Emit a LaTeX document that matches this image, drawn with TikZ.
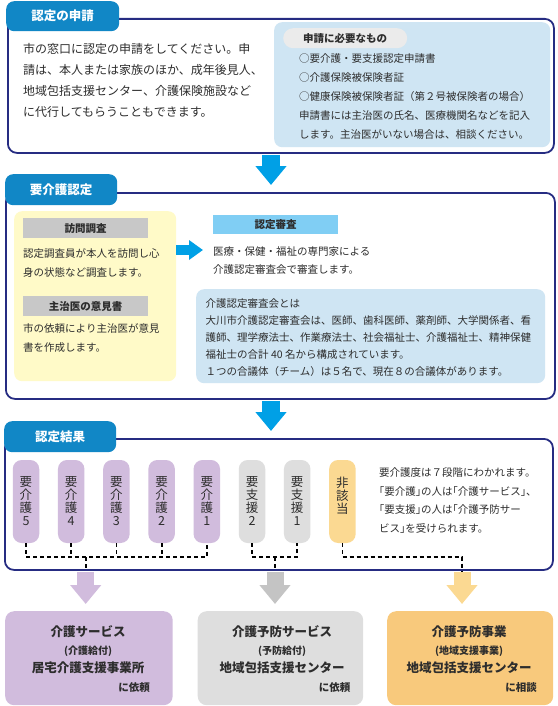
\documentclass[tikz,border=0pt]{standalone}
\usepackage{fontspec}
\setmainfont{Noto Sans CJK JP}
\newfontfamily\halffont{Noto Sans CJK JP}[RawFeature=+halt]
\usetikzlibrary{arrows.meta}

\definecolor{tabblue}{RGB}{17,135,198}
\definecolor{framenavy}{RGB}{38,44,130}
\definecolor{paleblue}{RGB}{207,229,243}
\definecolor{skyblue}{RGB}{128,206,244}
\definecolor{arrowblue}{RGB}{0,160,230}
\definecolor{paleyellow}{RGB}{255,250,200}
\definecolor{bargray}{RGB}{200,200,200}
\definecolor{pillgray}{RGB}{235,235,235}
\definecolor{carepurple}{RGB}{209,188,221}
\definecolor{supgray}{RGB}{222,222,222}
\definecolor{noneyellow}{RGB}{251,217,146}
\definecolor{prevorange}{RGB}{248,201,124}
\definecolor{arrowgray}{RGB}{196,196,196}
\definecolor{textgray}{RGB}{45,45,45}

\begin{document}
\begin{tikzpicture}[x=1pt,y=-1pt,
    every node/.style={text=textgray,inner sep=0pt},
    outerframe/.style={draw=framenavy,line width=1.8pt,fill=white,rounded corners=9pt,anchor=north west},
    boxtab/.style={fill=tabblue,rounded corners=8pt,anchor=north west,text=white,font=\bfseries\fontsize{12.5}{14}\selectfont},
    panel/.style={rounded corners=8pt,anchor=north west},
    bartitle/.style={anchor=north west,font=\bfseries\fontsize{10.5}{12}\selectfont},
    bodytext/.style={anchor=north west,align=left,font=\fontsize{10.5}{19}\selectfont},
    boxpill/.style={minimum width=26.5pt,minimum height=83pt,rounded corners=9pt,align=center,font=\fontsize{12.5}{13}\selectfont},
    dotline/.style={line width=1.8pt,dash pattern=on 4pt off 3pt},
    bigarrow/.style={line width=17pt,-{Triangle[width=30pt,length=19pt]},shorten >=7pt,shorten <=1pt},
    resultbox/.style={minimum width=167pt,minimum height=94pt,rounded corners=9pt,anchor=north west},
    resulttext/.style={align=center,font=\bfseries\fontsize{12.5}{18}\selectfont},
    noteref/.style={anchor=base east,font=\bfseries\fontsize{10.5}{12}\selectfont}]

  \useasboundingbox (0,0) rectangle (557,706);

  % 認定の申請
  \node[outerframe,minimum width=546pt,minimum height=134pt] (apply) at (7,18) {};
  \node[boxtab,minimum width=113pt,minimum height=30pt] (applyT) at (6,1) {認定の申請};
  \node[panel,fill=paleblue,minimum width=276pt,minimum height=125pt] (needs) at (274,22) {};
  \node[bartitle,fill=pillgray,rounded corners=10pt,minimum width=124pt,minimum height=20pt] (needsT) at (283,28) {申請に必要なもの};
  \node[bodytext,font=\fontsize{12}{21}\selectfont] (applyText) at (23,43.6)
    {市の窓口に認定の申請をしてください。申\\請は、本人または家族のほか、成年後見人、\\地域包括支援センター、介護保険施設など\\に代行してもらうこともできます。};
  \node[bodytext] (needsText) at (299,53.3)
    {○要介護・要支援認定申請書\\○介護保険被保険者証\\○健康保険被保険者証（第２号被保険者の場合）\\申請書には主治医の氏名、医療機関名などを記入\\します。主治医がいない場合は、相談ください。};

  % 要介護認定
  \node[outerframe,minimum width=549pt,minimum height=206pt] (cert) at (5,192) {};
  \node[boxtab,minimum width=112pt,minimum height=31pt] (certT) at (5,174) {要介護認定};
  \node[panel,fill=paleyellow,minimum width=162pt,minimum height=170pt] (survey) at (14,211) {};
  \node[bartitle,fill=bargray,minimum width=125pt,minimum height=20pt] (visitT) at (23,218) {訪問調査};
  \node[bodytext] (visitText) at (23,248.3) {認定調査員が本人を訪問し心\\身の状態など調査します。};
  \node[bartitle,fill=bargray,minimum width=125pt,minimum height=20pt] (opinionT) at (23,296) {主治医の意見書};
  \node[bodytext] (opinionText) at (23,323.3) {市の依頼により主治医が意見\\書を作成します。};
  \node[bartitle,fill=skyblue,minimum width=125pt,minimum height=19pt] (reviewT) at (213,215) {認定審査};
  \node[bodytext,font=\fontsize{10.5}{18.5}\selectfont] (reviewText) at (213,246.3)
    {医療・保健・福祉の専門家による\\介護認定審査会で審査します。};
  \node[panel,fill=paleblue,minimum width=349pt,minimum height=94pt] (board) at (196,289) {};
  \node[bodytext,font=\fontsize{10.5}{17}\selectfont] (boardText) at (205.5,298.3)
    {介護認定審査会とは\\大川市介護認定審査会は、医師、歯科医師、薬剤師、大学関係者、看\\護師、理学療法士、作業療法士、社会福祉士、介護福祉士、精神保健\\福祉士の合計 40 名から構成されています。\\１つの合議体（チーム）は５名で、現在８の合議体があります。};

  \coordinate (rtip) at (203,250);
  \draw[bigarrow,arrowblue,line width=10pt,-{Triangle[width=19pt,length=14pt]},shorten >=0pt,shorten <=0pt] (survey.east |- rtip) -- (rtip);

  % 認定結果
  \node[outerframe,minimum width=548pt,minimum height=131pt] (result) at (4,438) {};
  \node[boxtab,minimum width=112pt,minimum height=31pt] (resultT) at (4,421) {認定結果};

  \coordinate (down) at (271,0);
  \draw[bigarrow,arrowblue,line width=18pt] (apply.south -| down) -- (cert.north -| down);
  \draw[bigarrow,arrowblue,line width=18pt] (cert.south -| down) -- (result.north -| down);

  \node[boxpill,fill=carepurple] (k5) at (26,501.5) {要\\介\\護\\5};
  \node[boxpill,fill=carepurple] (k4) at (71.2,501.5) {要\\介\\護\\4};
  \node[boxpill,fill=carepurple] (k3) at (116.4,501.5) {要\\介\\護\\3};
  \node[boxpill,fill=carepurple] (k2) at (161.6,501.5) {要\\介\\護\\2};
  \node[boxpill,fill=carepurple] (k1) at (206.8,501.5) {要\\介\\護\\1};
  \node[boxpill,fill=supgray] (s2) at (252,501.5) {要\\支\\援\\2};
  \node[boxpill,fill=supgray] (s1) at (297.2,501.5) {要\\支\\援\\1};
  \node[boxpill,fill=noneyellow] (hg) at (342.4,501.5) {非\\該\\当\\\phantom{1}};

  \node[bodytext,font=\fontsize{10.5}{18.7}\selectfont] (levelText) at (379,467.3)
    {要介護度は７段階にわかれます。\\{\halffont「}要介護{\halffont」}の人は{\halffont「}介護サービス{\halffont」}、\\{\halffont「}要支援{\halffont」}の人は{\halffont「}介護予防サー\\ビス{\halffont」}を受けられます。};

  \coordinate (jc) at (85.7,557);
  \coordinate (js) at (275,557);
  \coordinate (jn) at (462,557);
  \draw[dotline] (k5.south) |- (k1.south |- jc) -- (k1.south);
  \draw[dotline] (k4.south) -- (k4.south |- jc);
  \draw[dotline] (k3.south) -- (k3.south |- jc);
  \draw[dotline] (k2.south) -- (k2.south |- jc);
  \draw[dotline] (jc) -- (jc |- result.south);
  \draw[dotline] (s2.south) |- (s1.south |- js) -- (s1.south);
  \draw[dotline] (js) -- (js |- result.south);
  \draw[dotline] (hg.south) |- (jn) -- (jn |- result.south);

  % サービス
  \node[resultbox,fill=carepurple,minimum width=167.5pt] (care) at (5,611) {};
  \node[resultbox,fill=supgray,minimum width=165.5pt] (prev) at (197.5,611) {};
  \node[resultbox,fill=prevorange,minimum width=166pt] (proj) at (387,611) {};

  \draw[bigarrow,carepurple] (jc |- result.south) -- (jc |- care.north);
  \draw[bigarrow,arrowgray] (js |- result.south) -- (js |- prev.north);
  \draw[bigarrow,noneyellow] (jn |- result.south) -- (jn |- proj.north);

  \node[resulttext] (careText) at (88,650) {介護サービス\\{\fontsize{10}{18}\selectfont (介護給付)}\\居宅介護支援事業所};
  \node[resulttext] (prevText) at (282,650) {介護予防サービス\\{\fontsize{10}{18}\selectfont (予防給付)}\\地域包括支援センター};
  \node[resulttext] (projText) at (469,650) {介護予防事業\\{\fontsize{10}{18}\selectfont (地域支援事業)}\\地域包括支援センター};
  \node[noteref] (careNote) at (150,691) {に依頼};
  \node[noteref] (prevNote) at (350.5,691) {に依頼};
  \node[noteref] (projNote) at (537,691) {に相談};
\end{tikzpicture}
\end{document}
